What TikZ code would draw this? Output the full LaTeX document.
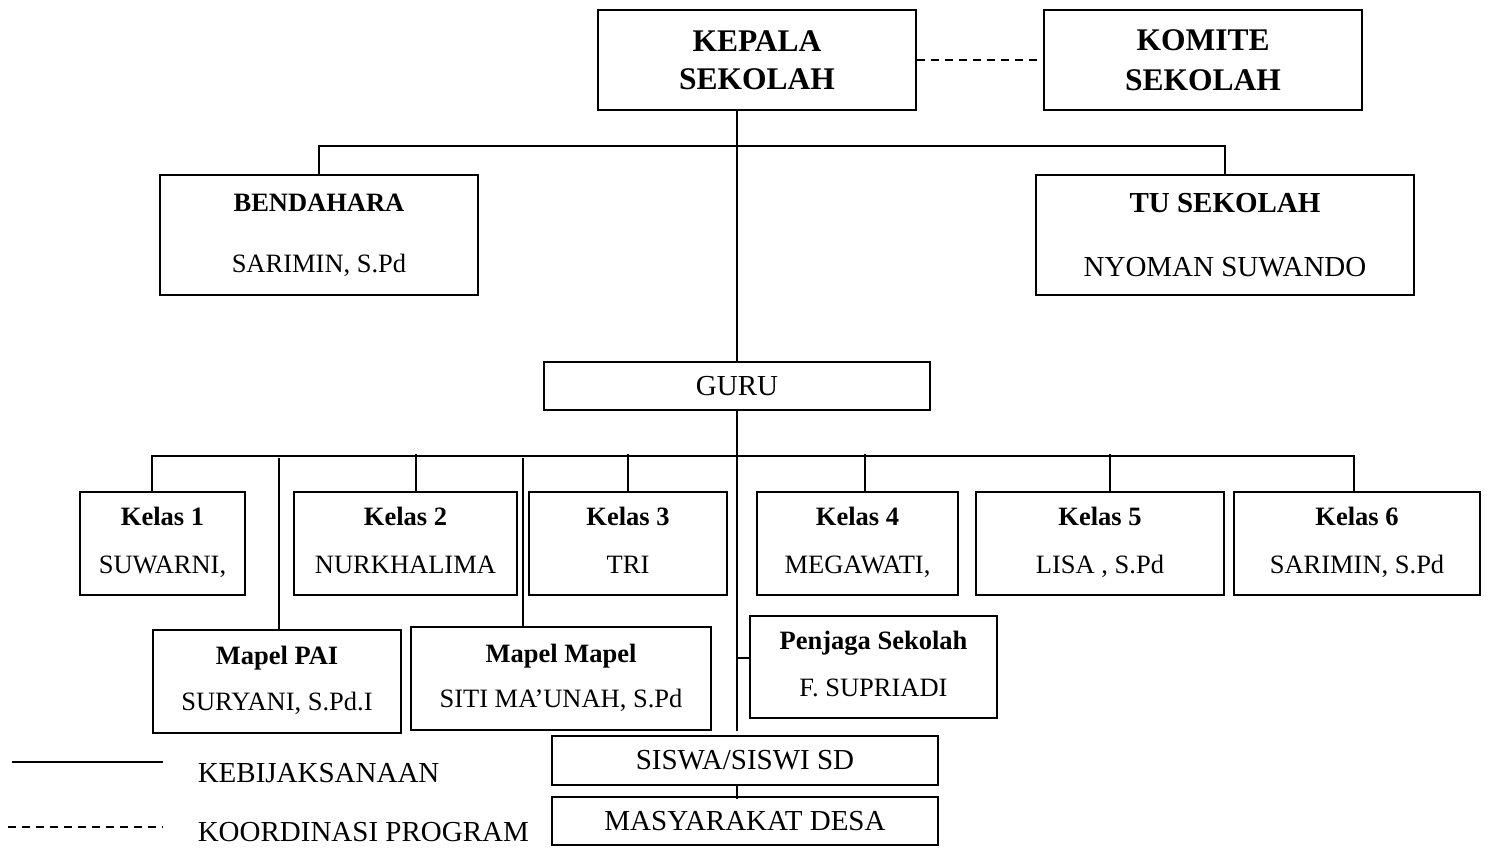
\documentclass[tikz,border=0pt]{standalone}
\usepackage{fontspec}
\setmainfont{Liberation Serif}
\usetikzlibrary{positioning}

\begin{document}
\begin{tikzpicture}[x=1pt,y=-1pt,line width=1.5pt,
  box/.style={draw,line width=1.6pt,inner sep=0pt,align=center,minimum height=103pt},
  big/.style={font=\fontsize{31.5}{38}\selectfont\bfseries},
  mid/.style={font=\fontsize{29}{35}\selectfont},
  small/.style={font=\fontsize{26.5}{32}\selectfont},
  koor/.style={dash pattern=on 8pt off 6pt}]
\useasboundingbox (0,0) rectangle (1490,850);
% pimpinan
\node[box,big,minimum width=318pt,minimum height=100pt] (kepala) at (757,60) {KEPALA\\SEKOLAH};
\node[box,big,minimum width=318pt,minimum height=100pt] (komite) at (1203,60) {KOMITE\\[2pt]SEKOLAH};
\node[box,small,minimum width=318pt,minimum height=120pt] (bendahara) at (319,235)
  {\textbf{BENDAHARA}\\[29pt]SARIMIN, S.Pd};
\node[box,mid,minimum width=378pt,minimum height=120pt] (tu) at (1225,235)
  {\textbf{TU SEKOLAH}\\[29pt]NYOMAN SUWANDO};
\node[box,mid,minimum width=386pt,minimum height=48pt] (guru) at (737,386) {GURU};
% kelas
\foreach \n/\x/\w/\nama in {1/162.5/165/{SUWARNI,},2/405.5/223/NURKHALIMA,3/628/198/TRI,
    4/857.5/201/{MEGAWATI,},5/1100/248/{LISA , S.Pd},6/1357/246/{SARIMIN, S.Pd}}
  \node[box,small,minimum width=\w pt] (k\n) at (\x,543.5) {\strut\textbf{Kelas \n}\\[16pt]\nama\strut};
% mapel dan penjaga
\node[box,small,minimum width=248pt] (pai) at (277,681.5) {\strut\textbf{Mapel PAI}\\[14pt]SURYANI, S.Pd.I\strut};
\node[box,small,minimum width=300pt] (mapel) at (561,678.5) {\strut\textbf{Mapel Mapel}\\[13pt]SITI MA’UNAH, S.Pd\strut};
\node[box,small,minimum width=247pt,minimum height=102pt] (penjaga) at (873.5,667)
  {\strut\textbf{Penjaga Sekolah}\\[15pt]F. SUPRIADI\strut};
\node[box,mid,minimum width=386pt,minimum height=49pt] (siswa) at (745,760.5) {SISWA/SISWI SD};
\node[box,mid,minimum width=386pt,minimum height=48pt] (masy) at (745,821) {MASYARAKAT DESA};
% garis komando
\draw[koor] (kepala) -- (komite);
\coordinate (atas) at ([xshift=-20pt,yshift=-35pt]kepala.south);
\draw ([xshift=-20pt]kepala.south) -- (guru.north);
\draw (bendahara.north) |- (atas) -| (tu.north);
\coordinate (bawah) at ([yshift=-45pt]guru.south);
\draw ([xshift=-10.5pt]k1.north) |- (bawah) -| ([xshift=-3pt]k6.north);
\foreach \n/\dx in {2/10.5,3/0,4/7.5,5/10}
  \draw ([xshift=\dx pt]k\n.north) -- ++(0,-37);
\draw ([xshift=2pt]pai.north) -- ++(0,-171);
\draw ([xshift=-38pt]mapel.north) -- ++(0,-168);
\coordinate (ujung) at (737,731);
\draw (guru.south) -- (ujung);
\draw ([yshift=9pt]penjaga.west) -- ++(-13,0);
\draw ([xshift=-8pt,yshift=2pt]siswa.south) -- ([xshift=-8pt,yshift=-3pt]masy.north);
% keterangan
\coordinate (lgsolid) at (12,762);
\coordinate (lgdash) at (8,827);
\draw (lgsolid) -- ++(151,0);
\draw[koor] (lgdash) -- ++(155,0);
\node[mid,anchor=west,inner sep=0pt] (lgk) at (197,773) {KEBIJAKSANAAN};
\node[mid,anchor=west,inner sep=0pt] (lgp) at (197,832) {KOORDINASI PROGRAM};
\end{tikzpicture}
\end{document}
